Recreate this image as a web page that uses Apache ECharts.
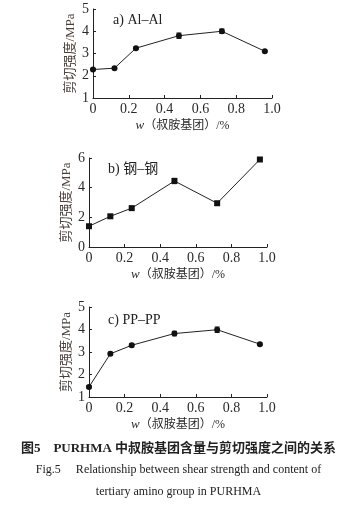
<!DOCTYPE html>
<html><head><meta charset="utf-8">
<script src="https://cdn.jsdelivr.net/npm/echarts@6/dist/echarts.min.js"></script>
<style>html,body{margin:0;padding:0;background:#fff}#c{width:357px;height:507px}</style>
</head><body><div id="c"></div>
<script>
var xValues = [0, 0.12, 0.24, 0.48, 0.72, 0.96];
var alValues = [2.28, 2.34, 3.24, 3.8, 4.0, 3.1];
var alErrors = [0.04, 0.04, 0.05, 0.12, 0.1, 0.04];
var steelValues = [1.4, 2.07, 2.62, 4.45, 2.95, 5.9];
var steelErrors = [0.12, 0.12, 0.12, 0.18, 0.12, 0.12];
var ppValues = [1.45, 2.92, 3.3, 3.82, 3.99, 3.35];
var ppErrors = [0.06, 0.07, 0.08, 0.1, 0.12, 0.05];
var panelTitles = ['a) Al\u2013Al', 'b) 钢\u2013钢', 'c) PP\u2013PP'];
var yRanges = [[1, 5, 1], [0, 6, 2], [1, 5, 1]];
var xTicks = [0, 0.2, 0.4, 0.6, 0.8, 1.0];
var yName = '剪切强度/MPa';
var xName = '{i|w}{c|（叔胺基团）/%}';

var serif = '"Liberation Serif","DejaVu Serif","Noto Sans CJK SC",serif';
var txt = '#2a2a2a';
var grids = [
  {left: 93, top: 9, width: 179, height: 89},
  {left: 89, top: 158, width: 178, height: 89},
  {left: 89, top: 307, width: 178, height: 90}
];
var markers = ['circle', 'rect', 'circle'];
var allValues = [alValues, steelValues, ppValues];
var allErrors = [alErrors, steelErrors, ppErrors];

var option = {animation: false, grid: grids, xAxis: [], yAxis: [], series: [], title: []};
for (var p = 0; p < 3; p++) {
  option.xAxis.push({
    gridIndex: p, type: 'value', min: 0, max: 1, interval: 0.2,
    name: xName, nameLocation: 'middle', nameGap: 21, nameMoveOverlap: false,
    nameTextStyle: {fontFamily: serif, fontSize: 12, color: txt,
      rich: {
        i: {fontStyle: 'italic', fontFamily: serif, fontSize: 13, color: txt},
        c: {fontFamily: serif, fontSize: 12, color: txt}
      }},
    axisLine: {lineStyle: {color: '#222', width: 1}},
    axisTick: {inside: true, length: 3, lineStyle: {color: '#222'}},
    axisLabel: {fontFamily: serif, fontSize: 14, color: txt, margin: 4,
      formatter: function (v) { return v === 0 ? '0' : v.toFixed(1); }},
    splitLine: {show: false}
  });
  option.yAxis.push({
    gridIndex: p, type: 'value', min: yRanges[p][0], max: yRanges[p][1], interval: yRanges[p][2],
    name: yName, nameLocation: 'middle', nameGap: 16, nameRotate: 90, nameMoveOverlap: false,
    nameTextStyle: {fontFamily: serif, fontSize: 13, color: '#4a3f3a'},
    axisLine: {show: true, lineStyle: {color: '#222', width: 1}},
    axisTick: {show: true, inside: true, length: 3, lineStyle: {color: '#222'}},
    axisLabel: {fontFamily: serif, fontSize: 14, color: txt, margin: 4},
    splitLine: {show: false}
  });
  var pts = xValues.map(function (x, i) { return [x, allValues[p][i]]; });
  option.series.push({
    type: 'line', xAxisIndex: p, yAxisIndex: p, data: pts,
    symbol: markers[p], symbolSize: 6, showAllSymbol: true,
    lineStyle: {color: '#222', width: 1}, itemStyle: {color: '#111'}
  });
  var errs = xValues.map(function (x, i) { return [x, allValues[p][i], allErrors[p][i]]; });
  option.series.push({
    type: 'custom', xAxisIndex: p, yAxisIndex: p, data: errs, z: 3,
    renderItem: function (params, api) {
      var x = api.value(0), y = api.value(1), e = api.value(2);
      var hi = api.coord([x, y + e]), lo = api.coord([x, y - e]);
      var w = 2.5;
      var st = {stroke: '#111', lineWidth: 1};
      return {type: 'group', children: [
        {type: 'line', shape: {x1: hi[0], y1: hi[1], x2: lo[0], y2: lo[1]}, style: st},
        {type: 'line', shape: {x1: hi[0] - w, y1: hi[1], x2: hi[0] + w, y2: hi[1]}, style: st},
        {type: 'line', shape: {x1: lo[0] - w, y1: lo[1], x2: lo[0] + w, y2: lo[1]}, style: st}
      ]};
    }
  });
}
var titleStyle = {fontFamily: serif, fontSize: 14, fontWeight: 'normal', color: '#222'};
option.title = [
  {text: panelTitles[0], left: 108, top: 8, textStyle: titleStyle},
  {text: panelTitles[1], left: 103, top: 157, textStyle: titleStyle},
  {text: panelTitles[2], left: 103, top: 308, textStyle: titleStyle},
  {text: '图5\u3000PURHMA 中叔胺基团含量与剪切强度之间的关系', left: 'center', top: 437,
    textStyle: {fontFamily: '"Liberation Serif","Noto Sans CJK SC",serif', fontSize: 13, fontWeight: 'bold', color: '#222'}},
  {text: 'Fig.5\u2003 Relationship between shear strength and content of', left: 'center', top: 459,
    textStyle: {fontFamily: serif, fontSize: 12, fontWeight: 'normal', color: '#222'}},
  {text: 'tertiary amino group in PURHMA', left: 'center', top: 481,
    textStyle: {fontFamily: serif, fontSize: 12, fontWeight: 'normal', color: '#222'}}
];
var chart = echarts.init(document.getElementById('c'), null, {renderer: 'canvas'});
chart.setOption(option);
</script></body></html>
